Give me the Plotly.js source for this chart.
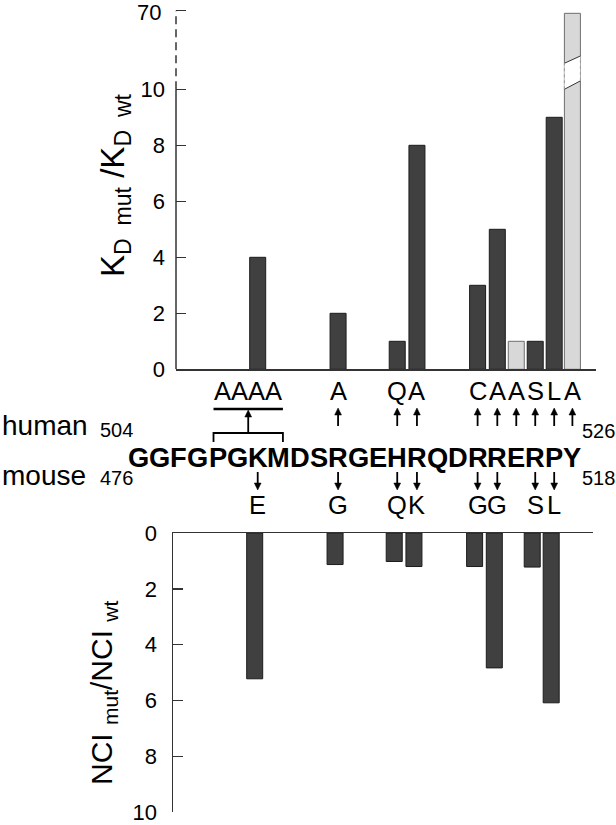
<!DOCTYPE html>
<html><head><meta charset="utf-8">
<script src="https://cdn.plot.ly/plotly-3.0.1.min.js"></script>
<style>html,body{margin:0;padding:0;background:#fff}#chart{width:616px;height:825px}</style>
</head><body><div id="chart"></div>
<script>
// ---------------- data ----------------
const sequence = "GGFGPGKMDSRGEHRQDRRERPY";   // human 504-526 / mouse 476-518
const humanStart = 504, humanEnd = 526;
const mouseStart = 476, mouseEnd = 518;

// K_D mut / K_D wt (human mutants, upper panel)
const kdResidues  = [510, 514, 517, 518, 521, 522, 523, 524, 525, 526];
const kdValues    = [4, 2, 1, 8, 3, 5, 1, 1, 9, 68];
const kdMutations = ["AAAA", "A", "Q", "A", "C", "A", "A", "S", "L", "A"];
const kdLightResidues = [523, 526];
const kdBlock = [508, 511];            // PGKM -> AAAA
const kdTickValues = [0, 2, 4, 6, 8, 10, 70];

// NCI mut / NCI wt (mouse mutants, lower panel)
const nciResidues  = [510, 514, 517, 518, 521, 522, 524, 525];
const nciValues    = [5.22, 1.13, 1.02, 1.2, 1.2, 4.83, 1.22, 6.08];
const nciMutations = ["E", "G", "Q", "K", "G", "G", "S", "L"];
const nciTickValues = [0, 2, 4, 6, 8, 10];

// ---------------- layout helpers ----------------
const W = 616, H = 825;
const FONT = "Liberation Sans, Arial, Helvetica, sans-serif";
const BOLD_W = {G:.778,F:.611,P:.667,K:.722,M:.833,D:.722,S:.667,R:.722,E:.667,H:.722,Q:.778,Y:.667};
const SEQ_FONT = 27.3, SEQ_LEFT_PX = 128;
const emLeft = []; let acc = 0;
for (const ch of sequence) { emLeft.push(acc); acc += BOLD_W[ch]; }
const emCenter = r => { const i = r - humanStart; return emLeft[i] + BOLD_W[sequence[i]] / 2; };
const pxOfEm = e => SEQ_LEFT_PX + e * SEQ_FONT;
const emOfPx = p => (p - SEQ_LEFT_PX) / SEQ_FONT;
const xp = px => px / W, yp = py => 1 - py / H;
const resPx = r => pxOfEm(emCenter(r));

const BAR_W = 16 / SEQ_FONT;
const BREAK_AT = 10, BREAK_TOP = 70, BREAK_SPAN = 2.807;
const kdScale = v => v <= BREAK_AT ? v : BREAK_AT + (v - BREAK_AT) * BREAK_SPAN / (BREAK_TOP - BREAK_AT);

const TOP_AXIS_PX = [176, 596], BOT_AXIS_PX = [173, 593];
const TOP_ZERO = 369.3, TOP_UNIT = 28, TOP_MAX = 13;
const BOT_ZERO = 533, BOT_TEN = 812.3;
const xRange = [emOfPx(TOP_AXIS_PX[0]), emOfPx(TOP_AXIS_PX[1])];

const DARK = "#404040", DARK_LINE = "#1c1c1c", LIGHT = "#d8d8d8", LIGHT_LINE = "#6e6e6e", AX = "#333";

// ---------------- traces ----------------
const isLight = kdResidues.map(r => kdLightResidues.includes(r));
function kdTrace(light) {
  const idx = kdResidues.map((r, i) => i).filter(i => isLight[i] === light);
  return {
    type: "bar", xaxis: "x", yaxis: "y",
    x: idx.map(i => emCenter(kdResidues[i])),
    y: idx.map(i => kdScale(kdValues[i])),
    hovertext: idx.map(i => kdMutations[i] + " " + kdValues[i]), hoverinfo: "text",
    width: BAR_W,
    marker: {color: light ? LIGHT : DARK, line: {color: light ? LIGHT_LINE : DARK_LINE, width: 1}}
  };
}
const nciTrace = {
  type: "bar", xaxis: "x2", yaxis: "y2",
  x: nciResidues.map(emCenter), y: nciValues, width: BAR_W,
  hovertext: nciMutations.map((m, i) => m + " " + nciValues[i]), hoverinfo: "text",
  marker: {color: DARK, line: {color: DARK_LINE, width: 1}}
};

// ---------------- annotations & shapes ----------------
const ann = [], shapes = [];
const txt = (text, px, py, size, opts = {}) => ann.push(Object.assign({
  text, x: xp(px), y: yp(py), xref: "paper", yref: "paper", showarrow: false,
  xanchor: "center", yanchor: "middle", font: {family: FONT, size, color: "#000"}
}, opts));
// arrow drawn as shaft + filled head (tip at tipPy, tail at tailPy)
const arrow = (px, tipPy, tailPy) => {
  const dir = Math.sign(tailPy - tipPy), HL = 7, HW = 3.4;
  const base = tipPy + dir * HL;
  shapes.push({type: "line", xref: "paper", yref: "paper", x0: xp(px), x1: xp(px), y0: yp(tailPy), y1: yp(base),
    line: {color: "#000", width: 1.8}});
  shapes.push({type: "path", xref: "paper", yref: "paper",
    path: `M${xp(px)},${yp(tipPy)} L${xp(px - HW)},${yp(base)} L${xp(px + HW)},${yp(base)} Z`,
    fillcolor: "#000", line: {color: "#000", width: 0.5}});
};

// sequence
for (let r = humanStart; r <= humanEnd; r++) {
  txt("<b>" + sequence[r - humanStart] + "</b>", resPx(r), 457, SEQ_FONT);
}
txt("human", 0, 425.5, 28, {xanchor: "left"});
txt("mouse", 0, 475.5, 28, {xanchor: "left"});
txt(String(humanStart), 98, 430, 20, {xanchor: "left"});
txt(String(mouseStart), 98, 478, 20, {xanchor: "left"});
txt(String(humanEnd), 580, 431, 20, {xanchor: "left"});
txt(String(mouseEnd), 580, 478, 20, {xanchor: "left"});

// human mutations (above)
const blockL = resPx(kdBlock[0]) - 4, blockR = resPx(kdBlock[1]) + 4, blockC = (blockL + blockR) / 2;
kdResidues.forEach((r, i) => {
  const m = kdMutations[i];
  if (m.length > 1) {
    txt(m, blockC, 391, 25.5);
    arrow(blockC, 410, 433);
  } else {
    txt(m, resPx(r), 391, 25.5);
    arrow(resPx(r), 408, 426);
  }
});
// mouse mutations (below)
nciResidues.forEach((r, i) => {
  txt(nciMutations[i], resPx(r), 505, 25.5);
  arrow(resPx(r), 490, 472);
});

// axis titles
txt("K<sub>D&nbsp;&nbsp;mut</sub> /K<sub>D&nbsp;&nbsp;wt</sub>", 115, 185, 33, {textangle: -90});
txt("NCI <sub>mut</sub>/NCI <sub>wt</sub>", 103, 692, 30, {textangle: -90});

// top y axis: solid up to the break, dashed above it; top label of the broken range
const ax0 = xp(TOP_AXIS_PX[0]);
shapes.push({type: "line", xref: "paper", yref: "y", x0: ax0, x1: ax0, y0: 0, y1: BREAK_AT, line: {color: AX, width: 1.5}});
shapes.push({type: "line", xref: "paper", yref: "y", x0: ax0, x1: ax0, y0: BREAK_AT, y1: kdScale(BREAK_TOP), line: {color: AX, width: 1.5, dash: "8px,5px"}});
txt(String(BREAK_TOP), 163, 12.6, 22, {xanchor: "right"});
// break marks on the off-scale bar
kdResidues.forEach((r, i) => {
  if (kdValues[i] <= BREAK_TOP && kdValues[i] > BREAK_AT) {
    const xl = emCenter(r) - BAR_W / 2, xr = emCenter(r) + BAR_W / 2;
    const lo = [10.0, 10.3], hi = [10.93, 11.19];
    shapes.push({type: "path", xref: "x", yref: "y", layer: "above",
      path: `M${xl},${lo[0]} L${xr},${lo[1]} L${xr},${hi[1]} L${xl},${hi[0]} Z`,
      fillcolor: "#fff", line: {width: 0}});
    shapes.push({type: "line", xref: "x", yref: "y", x0: xl, x1: xr, y0: lo[0], y1: lo[1], line: {color: "#333", width: 1}});
    shapes.push({type: "line", xref: "x", yref: "y", x0: xl, x1: xr, y0: hi[0], y1: hi[1], line: {color: "#333", width: 1}});
    shapes.push({type: "line", xref: "x", yref: "y", x0: xl, x1: xl, y0: lo[0], y1: hi[0], line: {color: "#999", width: 1, dash: "3px,3px"}});
    shapes.push({type: "line", xref: "x", yref: "y", x0: xr, x1: xr, y0: lo[1], y1: hi[1], line: {color: "#999", width: 1, dash: "3px,3px"}});
  }
});
// AAAA bracket
shapes.push({type: "line", xref: "paper", yref: "paper", x0: xp(blockL), x1: xp(blockR), y0: yp(409), y1: yp(409), line: {color: "#000", width: 2.5}});
shapes.push({type: "path", xref: "paper", yref: "paper",
  path: `M${xp(blockL)},${yp(442)} L${xp(blockL)},${yp(433)} L${xp(blockR)},${yp(433)} L${xp(blockR)},${yp(442)}`,
  line: {color: "#000", width: 1.8}});

// ---------------- layout ----------------
const tickFont = {family: FONT, size: 22, color: "#000"};
const layout = {
  width: W, height: H, margin: {l: 0, r: 0, t: 0, b: 0},
  paper_bgcolor: "#fff", plot_bgcolor: "#fff", showlegend: false, bargap: 0,
  font: {family: FONT},
  xaxis: {domain: [xp(TOP_AXIS_PX[0]), xp(TOP_AXIS_PX[1])], range: xRange, anchor: "y",
    showline: true, linecolor: AX, linewidth: 1.5, showticklabels: false, ticks: "", showgrid: false, zeroline: false, fixedrange: true},
  yaxis: {domain: [yp(TOP_ZERO), yp(TOP_ZERO - TOP_MAX * TOP_UNIT)], range: [0, TOP_MAX], anchor: "x",
    showline: false, showgrid: false, zeroline: false, fixedrange: true,
    tickmode: "array", tickvals: kdTickValues.map(kdScale),
    ticktext: kdTickValues.map(v => v > BREAK_AT ? "" : String(v)),
    ticks: "inside", ticklen: 10, tickwidth: 1.5, tickcolor: AX, tickfont: tickFont, ticklabelstandoff: 10},
  xaxis2: {domain: [xp(BOT_AXIS_PX[0]), xp(BOT_AXIS_PX[1])], range: xRange, anchor: "y2", side: "top",
    showline: true, linecolor: AX, linewidth: 1.5, showticklabels: false, ticks: "", showgrid: false, zeroline: false, fixedrange: true},
  yaxis2: {domain: [yp(BOT_TEN), yp(BOT_ZERO)], range: [10, 0], anchor: "x2",
    showline: true, linecolor: AX, linewidth: 1.5, showgrid: false, zeroline: false, fixedrange: true,
    tickmode: "array", tickvals: nciTickValues, ticktext: nciTickValues.map(String),
    ticks: "inside", ticklen: 10, tickwidth: 1.5, tickcolor: AX, tickfont: tickFont, ticklabelstandoff: 10,
    ticklabeloverflow: "allow"},
  annotations: ann, shapes: shapes
};

Plotly.newPlot("chart", [kdTrace(false), kdTrace(true), nciTrace], layout, {staticPlot: true, displayModeBar: false});
</script></body></html>
